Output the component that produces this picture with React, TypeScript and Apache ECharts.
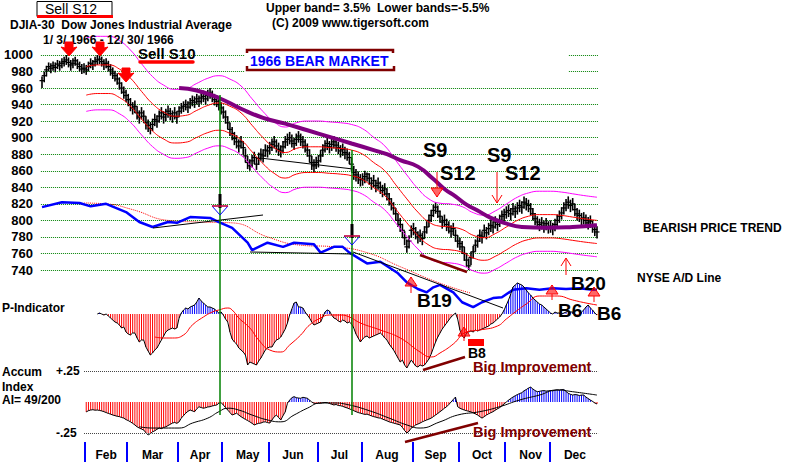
import React, { useEffect, useRef } from "react";
import * as echarts from "echarts";

// ---------------- DATA (DJIA 1966, trading-day index 0..251) ----------------
const closes = [
  969,975,982,986,984,987,985,989,987,990,992,994,991,988,990,993,989,986,983,984,
  982,986,990,988,992,994,995,992,989,990,986,982,978,975,971,966,960,955,951,
  946,940,936,938,930,925,930,926,918,915,911,916,922,920,926,930,925,928,932,929,926,930,925,
  932,936,938,940,937,942,945,943,947,944,948,950,947,951,954,950,946,944,940,936,
  931,925,918,910,905,899,895,890,895,888,878,870,866,872,876,868,875,880,878,885,884,
  888,892,895,890,886,884,889,895,898,900,896,893,898,902,898,895,890,885,878,870,866,870,
  872,878,885,890,893,889,892,895,891,888,884,886,882,880,876,868,858,855,852,849,
  850,853,856,851,845,848,842,845,840,836,838,832,826,820,815,808,800,795,788,779,768,775,788,
  790,785,780,782,778,786,792,800,806,812,816,811,805,798,800,795,792,787,790,782,775,
  772,768,760,752,745,755,762,770,775,782,780,788,785,790,794,792,798,795,800,805,807,
  810,812,808,814,811,815,818,816,822,820,818,814,808,802,798,795,797,793,796,792,
  793,790,795,800,805,809,815,819,822,818,820,813,808,806,802,803,800,797,799,793,789,786,
];
const highs = [
  974,980,987,991,990,992,991,994,993,996,998,1000,997,994,996,998,995,992,989,990,
  988,992,996,994,998,1000,1001,998,995,996,993,989,985,981,978,973,967,962,958,
  953,948,943,945,938,933,937,933,926,922,919,923,929,927,933,937,932,935,939,936,933,937,932,
  938,942,944,946,944,948,951,950,953,951,954,957,954,958,960,957,953,951,947,943,
  938,933,926,918,913,907,903,898,902,896,887,878,874,879,883,876,882,887,886,892,891,
  895,899,902,898,894,891,896,902,905,907,904,900,905,908,905,902,898,893,886,878,874,877,
  879,885,892,897,900,896,899,902,898,895,891,893,889,887,883,876,866,862,859,856,
  857,860,858,857,852,855,849,852,847,843,845,839,833,827,822,815,808,803,796,787,777,782,794,
  797,792,787,789,785,793,799,807,813,819,822,818,812,805,807,802,799,794,797,789,782,
  779,775,768,760,754,762,769,777,782,789,787,795,792,797,801,799,805,802,807,812,814,
  817,819,815,821,818,822,825,823,829,827,825,821,815,809,805,802,804,800,803,799,
  800,797,802,807,812,816,822,826,829,825,827,820,815,813,809,810,807,804,806,800,796,793,
];
const lows = [
  960,967,974,980,978,981,979,983,981,984,986,988,985,981,984,987,983,980,977,978,
  976,980,984,982,986,988,989,986,982,984,980,975,971,968,964,958,953,947,943,
  938,932,928,930,922,917,922,918,910,907,904,908,914,912,918,922,917,920,924,921,918,922,917,
  925,929,931,933,930,935,938,936,940,937,941,943,940,944,947,943,939,937,933,928,
  923,917,910,902,897,891,887,882,887,879,870,862,860,864,868,861,867,872,870,877,876,
  880,884,887,882,878,876,881,887,890,892,888,885,890,894,890,887,882,877,870,861,858,862,
  864,870,877,882,885,881,884,887,883,880,876,878,874,872,868,859,849,847,844,841,
  842,845,847,843,837,840,834,837,832,828,830,824,818,812,807,800,792,786,779,770,761,766,779,
  782,777,772,774,770,778,784,792,798,804,808,803,797,790,792,787,784,779,782,774,767,
  764,760,751,744,740,746,754,762,767,774,772,780,777,782,786,784,790,787,792,797,799,
  802,804,800,806,803,807,810,808,814,812,810,806,800,794,790,787,789,785,788,784,
  785,782,787,792,797,801,807,811,814,810,812,805,800,798,794,795,792,789,791,785,781,778,
];

// 21-day moving average (red) read at sample days; bands are % offsets from it
const maIdx = [20,25,30,35,40,45,50,55,60,65,70,75,80,85,90,95,100,105,110,115,120,125,130,135,140,145,150,155,160,165,170,175,180,185,190,195,200,205,210,215,220,225,230,235,240,245,251];
const maVals = [986,988,988,983,972,956,941,931,926,927,933,939,942,938,930,915,900,888,882,887,889,889,888,887,885,880,870,860,843,826,810,798,793,792,789,782,779,784,792,800,805,807,807,806,804,802,800];
const UPPER_BAND = 0.035;
const LOWER_BAND_1 = 0.035;
const LOWER_BAND_2 = 0.055;

// long moving average (purple)
const purpleIdx = [62,70,80,90,100,110,120,130,140,150,156,162,170,177,182,187,192,197,203,209,217,228,240,251];
const purpleVals = [960,957,948,935,924,917,909,901,893,885,880,873,865,850,838,829,819,812,803,797,792,791,792,794];

// NYSE A/D line, plotted on the price scale
const adIdx = [0,9,17,22,29,38,44,50,57,61,67,76,80,86,93,95,102,109,114,123,126,132,136,139,147,153,157,161,165,170,174,177,180,186,190,195,199,204,208,213,219,225,231,237,243,249,251];
const adVals = [816,822,821,817,820,810,798,792,798,797,804,803,798,791,773,764,773,768,773,771,761,768,768,761,748,750,743,736,725,717,713,719,722,713,701,695,701,706,707,716,718,716,718,717,718,716,716];
const adMaIdx = [19,29,41,57,71,86,102,117,132,147,162,180,194];
const adMaVals = [821,820,813,800,798,797,780,770,768,761,744,724,712];

// P-Indicator (daily from day 25)
const pStart = 25;
const pVals = [
  0,1,0,-1,0,-2,-4,-6,-8,-9,
  -11,-14,-13,-18,-20,-21,-19,-19,-24,-28,
  -26,-26,-33,-37,-41,-39,-36,-34,-30,-26,
  -22,-18,-16,-15,-14,-15,-14,-4,1,4,
  6,5,7,8,9,12,16,13,11,9,
  7,7,6,5,3,1,2,-1,-5,-8,
  -18,-25,-28,-30,-34,-36,-38,-41,-51,-48,
  -49,-50,-51,-47,-44,-40,-36,-34,-33,-33,
  -29,-26,-25,-23,-19,-15,-9,-1,5,11,
  12,7,7,6,2,-1,-4,-8,-11,-10,
  -9,-8,-3,2,4,3,-1,-4,-5,-7,
  -8,-6,-7,-9,-8,-10,-14,-20,-24,-28,
  -25,-23,-22,-24,-23,-22,-21,-20,-19,-21,
  -24,-26,-30,-33,-36,-40,-44,-48,-46,-51,
  -54,-50,-46,-49,-52,-53,-51,-52,-51,-48,
  -45,-40,-34,-28,-23,-19,-15,-12,-9,-6,
  -3,-1,1,-5,-16,-22,-24,-19,-18,-17,
  -18,-16,-17,-16,-15,-14,-13,-12,-10,-9,
  -7,-5,-3,0,4,9,14,20,27,29,
  31,30,29,27,24,21,19,16,14,12,
  10,9,7,5,3,1,0,2,1,1,
  0,1,2,3,2,2,0,-3,-1,2,
  4,7,9,6,4,1,-1,
];
const pMaIdx = [51,55,59,64,68,73,77,80,84,86,89,94,98,103,108,112,117,121,126,130,135,139,144,153,162,171,176,180,186,192,198,206,210,214,219,225,233,240,246,251];
const pMaVals = [-23,-24,-24,-21,-11,-3,2,4,6,4,-4,-14,-26,-36,-38,-31,-21,-11,-4,-1,-1,-3,-9,-16,-24,-38,-43,-39,-30,-18,-16,-12,-5,2,10,18,18,14,11,9];

// Accumulation Index (daily from day 20)
const aiStart = 20;
const aiVals = [
  -0.080,-0.070,-0.065,-0.062,-0.066,-0.065,-0.068,-0.072,-0.078,-0.085,
  -0.092,-0.098,-0.105,-0.110,-0.115,-0.118,-0.125,-0.130,-0.142,-0.150,
  -0.160,-0.172,-0.185,-0.200,-0.210,-0.218,-0.226,-0.248,-0.266,-0.255,
  -0.240,-0.232,-0.220,-0.210,-0.215,-0.205,-0.200,-0.190,-0.180,-0.170,
  -0.165,-0.172,-0.160,-0.130,-0.110,-0.090,-0.075,-0.065,-0.072,-0.078,
  -0.055,-0.038,-0.045,-0.050,-0.046,-0.040,-0.038,-0.032,-0.028,-0.024,
  -0.010,-0.005,-0.024,-0.045,-0.065,-0.085,-0.105,-0.098,-0.090,-0.105,
  -0.118,-0.130,-0.140,-0.150,-0.160,-0.172,-0.185,-0.178,-0.172,-0.170,
  -0.162,-0.160,-0.166,-0.170,-0.145,-0.120,-0.105,-0.125,-0.145,-0.110,
  -0.080,-0.010,0.015,0.035,0.043,0.035,0.032,0.030,0.038,0.034,
  0.030,0.015,0.000,-0.010,-0.012,-0.010,-0.010,-0.006,-0.004,-0.005,
  -0.012,-0.018,-0.024,-0.020,-0.028,-0.030,-0.035,-0.042,-0.048,-0.055,
  -0.062,-0.070,-0.078,-0.085,-0.090,-0.095,-0.100,-0.098,-0.105,-0.112,
  -0.118,-0.122,-0.128,-0.130,-0.138,-0.145,-0.152,-0.160,-0.165,-0.170,
  -0.175,-0.180,-0.185,-0.205,-0.230,-0.250,-0.235,-0.210,-0.200,-0.185,
  -0.178,-0.170,-0.160,-0.152,-0.145,-0.138,-0.130,-0.118,-0.105,-0.092,
  -0.078,-0.065,-0.050,-0.038,-0.020,0.000,0.020,0.040,-0.038,-0.050,
  -0.058,-0.065,-0.070,-0.075,-0.080,-0.088,-0.096,-0.105,-0.118,-0.130,
  -0.118,-0.105,-0.095,-0.086,-0.078,-0.066,-0.055,-0.045,-0.030,-0.015,
  0.000,0.015,0.028,0.040,0.050,0.060,0.068,0.075,0.090,0.100,
  0.112,0.120,0.105,0.092,0.083,0.086,0.090,0.092,0.088,0.090,
  0.092,0.090,0.095,0.098,0.096,0.100,0.100,0.085,0.070,0.062,
  0.056,0.060,0.058,0.052,0.056,0.056,0.040,0.028,0.016,0.005,
  -0.008,-0.016,
];
const aiMaIdx = [44,50,62,68,75,80,84,89,95,102,108,114,120,126,132,138,148,157,165,171,180,188,198,207,216,225,233,240,251];
const aiMaVals = [-0.20,-0.21,-0.21,-0.17,-0.13,-0.078,-0.05,-0.065,-0.105,-0.145,-0.16,-0.105,-0.05,-0.008,-0.008,-0.02,-0.07,-0.13,-0.185,-0.21,-0.16,-0.105,-0.078,-0.038,0.016,0.056,0.097,0.083,0.056];

// month axis
const monthNames = ["Feb","Mar","Apr","May","Jun","Jul","Aug","Sep","Oct","Nov","Dec"];
const monthStarts = [20,39,62,82,103,125,145,168,189,210,230];
const monthLabelAt = [29,50,71.5,93,113.5,134.5,156,178,199,221,241];
const priceTicks = { min: 740, max: 1020, step: 20 };

// ---------------- CHART ----------------
const FONT = "'Liberation Sans', Arial, Helvetica, sans-serif";
const RED = "#ff0000";
const MAG = "#ff00ff";
const BLUE = "#0000ff";
const MAROON = "#800000";

const pair = (idx: number[], vals: number[], f = (v: number) => v) => idx.map((x, k) => [x, f(vals[k])]);

function txt(text: string, x: number, y: number, size: number, extra: any = {}) {
  return {
    type: "text", x, y, z: 10,
    style: { text, fontSize: size, fontWeight: "bold", fontFamily: FONT, fill: "#000", align: "left", verticalAlign: "middle", ...extra },
  };
}
function seg(x1: number, y1: number, x2: number, y2: number, stroke: string, lineWidth: number, extra: any = {}) {
  return { type: "line", z: 10, shape: { x1, y1, x2, y2 }, style: { stroke, lineWidth, ...extra } };
}
function fatDown(cx: number, y0: number) {
  return {
    type: "polygon", z: 10,
    shape: { points: [[cx - 4, y0], [cx + 4, y0], [cx + 4, y0 + 6], [cx + 8, y0 + 5], [cx, y0 + 14], [cx - 8, y0 + 5], [cx - 4, y0 + 6]] },
    style: { fill: RED, stroke: RED, lineWidth: 1, lineJoin: "round" },
  };
}
function hatchArrow(x: number, yTail: number, yHead: number) {
  const dir = yHead > yTail ? 1 : -1;
  const hb = yHead - dir * 9;
  const out: any[] = [
    seg(x, yTail, x, yHead, RED, 1),
    { type: "polygon", z: 10, shape: { points: [[x - 6, hb], [x + 6, hb], [x, yHead]] }, style: { fill: "rgba(255,0,0,0.2)", stroke: RED, lineWidth: 1 } },
  ];
  for (const dx of [-4, -2, 2, 4]) {
    const len = 9 * (1 - Math.abs(dx) / 6);
    out.push(seg(x + dx, hb, x + dx, hb + dir * len, RED, 1));
  }
  return out;
}
function thinArrow(x: number, yTail: number, yHead: number) {
  const dir = yHead > yTail ? 1 : -1;
  return [
    seg(x, yTail, x, yHead, RED, 1),
    { type: "polyline", z: 10, shape: { points: [[x - 5, yHead - dir * 8], [x, yHead], [x + 5, yHead - dir * 8]] }, style: { stroke: RED, lineWidth: 1, fill: null } },
  ];
}
function signalMarker(x: number, yTop: number) {
  return [
    { type: "rect", z: 10, shape: { x: x - 1.5, y: yTop, width: 3, height: 14 }, style: { fill: "#000" } },
    { type: "polygon", z: 10, shape: { points: [[x - 8, yTop + 12], [x + 8, yTop + 12], [x, yTop + 21]] }, style: { fill: "none", stroke: BLUE, lineWidth: 1 } },
    seg(x - 8, yTop + 12, x + 8, yTop + 12, RED, 1.2),
  ];
}

function buildOption(): any {
  const gridBox = { left: 40.9, width: 557.2 };
  const xBase = { type: "value", min: -0.5, max: 251.5, show: false };
  const ohlc = closes.map((c, i) => [i, highs[i], lows[i], c]);
  const pData = pVals.map((v, k) => [pStart + k, v]);
  const aiData = aiVals.map((v, k) => [aiStart + k, v]);
  const signColor = (p: any) => (p.value[1] >= 0 ? BLUE : RED);

  const graphic: any[] = [
    { type: "rect", z: 1, shape: { x: 245, y: 44, width: 323, height: 33 }, style: { fill: "#fff" } },
    { type: "rect", z: 10, shape: { x: 37, y: 1.5, width: 75, height: 15 }, style: { fill: "#fff", stroke: "#000", lineWidth: 1 } },
    txt("Sell S12", 45, 9, 14, { fontWeight: "normal" }),
    seg(37, 16.5, 113, 16.5, RED, 3),
    txt("DJIA-30  Dow Jones Industrial Average", 10, 24.5, 12),
    txt("1/ 3/ 1966 - 12/ 30/ 1966", 43, 39.5, 12),
    txt("Upper band= 3.5%  Lower bands=-5.5%", 266, 8, 12),
    txt("(C) 2009 www.tigersoft.com", 272, 23, 12),
    txt("Sell S10", 138, 53, 15),
    seg(140, 62, 193, 62, RED, 3.5, { lineCap: "round" }),
    txt("1966 BEAR MARKET", 250, 61, 14, { fill: BLUE }),
    { type: "polyline", z: 10, shape: { points: [[247, 53], [247, 50], [393, 50], [393, 53]] }, style: { stroke: MAROON, lineWidth: 2.5, fill: null } },
    { type: "polyline", z: 10, shape: { points: [[247, 66], [247, 70], [394, 70], [394, 66]] }, style: { stroke: MAROON, lineWidth: 2.5, fill: null } },
    fatDown(69, 42), fatDown(100, 42), fatDown(126, 68),
    txt("S9", 423, 150, 20), txt("S12", 440, 173, 20),
    txt("S9", 487, 155, 20), txt("S12", 505, 173, 20),
    ...hatchArrow(437, 172, 197),
    ...thinArrow(497, 172, 203),
    ...thinArrow(566, 275, 258),
    txt("BEARISH PRICE TREND", 643, 228, 12),
    txt("NYSE A/D Line", 637, 278, 12),
    txt("B19", 417, 300, 19), txt("B20", 571, 283, 19),
    txt("B6", 558, 310, 19), txt("B6", 597, 313, 19),
    ...hatchArrow(411, 293, 277),
    ...hatchArrow(552, 300, 285),
    ...hatchArrow(594, 302, 287),
    ...hatchArrow(464, 341, 327),
    { type: "rect", z: 10, shape: { x: 468, y: 339, width: 16, height: 7 }, style: { fill: RED } },
    txt("B8", 468, 353, 14),
    txt("P-Indicator", 2, 308, 12),
    txt("Accum", 2, 372, 12), txt("Index", 2, 387, 12), txt("AI= 49/200", 2, 400, 12),
    txt("Big Improvement", 473, 367, 14.5, { fill: MAROON }),
    txt("Big Improvement", 473, 432, 14.5, { fill: MAROON }),
    seg(420, 255, 467, 272, MAROON, 2.5),
    seg(423, 370, 465, 357, MAROON, 2.5),
    seg(405, 442, 478, 423, MAROON, 2.5),
    seg(153, 228, 263, 215, "#000", 1),
    seg(250, 252, 353, 254, "#000", 1),
    seg(260, 158, 353, 169, "#000", 1),
    seg(353, 252, 503, 308, "#000", 1),
    seg(220, 95, 220, 415, "#008000", 1.5),
    seg(352, 150, 352, 415, "#008000", 1.5),
    ...signalMarker(220, 194),
    ...signalMarker(352, 224),
  ];

  return {
    animation: false,
    backgroundColor: "#fff",
    textStyle: { fontFamily: FONT },
    grid: [
      { ...gridBox, top: 38.46, height: 231.54 },
      { ...gridBox, top: 274, height: 100 },
      { ...gridBox, top: 371, height: 62 },
      { ...gridBox, top: 440, height: 2 },
    ],
    xAxis: [
      { ...xBase, gridIndex: 0 },
      { ...xBase, gridIndex: 1 },
      { ...xBase, gridIndex: 2 },
      {
        type: "value", gridIndex: 3, min: -0.5, max: 251.5,
        axisLine: { show: false },
        splitLine: { show: false },
        axisTick: { show: true, customValues: monthStarts.map((s) => s - 0.5), length: 20, lineStyle: { color: BLUE, width: 2 } },
        axisLabel: {
          customValues: monthLabelAt,
          formatter: (v: number) => monthNames[monthLabelAt.indexOf(v)] ?? "",
          fontWeight: "bold", fontSize: 12, color: "#000", margin: 7, fontFamily: FONT,
        },
      },
    ],
    yAxis: [
      {
        type: "value", gridIndex: 0, min: priceTicks.min, max: priceTicks.max, interval: priceTicks.step,
        axisLine: { show: false }, axisTick: { show: false },
        axisLabel: { formatter: (v: number) => (v >= priceTicks.max ? "" : String(v)), fontWeight: "bold", fontSize: 13, color: "#000", margin: 8, fontFamily: FONT },
        splitLine: { show: true, showMaxLine: false, lineStyle: { type: "dotted", color: "#008000", width: 1 } },
      },
      { type: "value", gridIndex: 1, min: -60, max: 40, show: false },
      {
        type: "value", gridIndex: 2, min: -0.25, max: 0.25, interval: 0.25,
        axisLine: { show: false }, axisTick: { show: false }, splitLine: { show: false },
        axisLabel: { inside: true, margin: 15, formatter: (v: number) => (v > 0 ? "+.25" : v < 0 ? "-.25" : ""), fontWeight: "bold", fontSize: 12, color: "#000", fontFamily: FONT },
      },
      { type: "value", gridIndex: 3, min: 0, max: 1, show: false },
    ],
    series: [
      { type: "line", xAxisIndex: 0, yAxisIndex: 0, data: pair(maIdx, maVals, (v) => v * (1 + UPPER_BAND)), smooth: true, symbol: "none", clip: false, lineStyle: { color: MAG, width: 1 } },
      { type: "line", xAxisIndex: 0, yAxisIndex: 0, data: pair(maIdx, maVals, (v) => v * (1 - LOWER_BAND_1)), smooth: true, symbol: "none", clip: false, lineStyle: { color: RED, width: 1 } },
      { type: "line", xAxisIndex: 0, yAxisIndex: 0, data: pair(maIdx, maVals, (v) => v * (1 - LOWER_BAND_2)), smooth: true, symbol: "none", clip: false, lineStyle: { color: MAG, width: 1 } },
      { type: "line", xAxisIndex: 0, yAxisIndex: 0, data: pair(maIdx, maVals), smooth: true, symbol: "none", clip: false, lineStyle: { color: RED, width: 1 } },
      { type: "line", xAxisIndex: 0, yAxisIndex: 0, data: pair(purpleIdx, purpleVals), smooth: true, symbol: "none", clip: false, lineStyle: { color: "#800080", width: 4 } },
      { type: "line", xAxisIndex: 0, yAxisIndex: 0, data: pair(adMaIdx, adMaVals), smooth: true, symbol: "none", clip: false, lineStyle: { color: RED, width: 1, type: "dotted" } },
      { type: "line", xAxisIndex: 0, yAxisIndex: 0, data: pair(adIdx, adVals), symbol: "none", clip: false, lineStyle: { color: BLUE, width: 2.5 } },
      {
        type: "custom", xAxisIndex: 0, yAxisIndex: 0, data: ohlc, encode: { x: 0, y: [1, 2, 3] }, clip: false, z: 3,
        renderItem: (_p: any, api: any) => {
          const i = api.value(0);
          const hi = api.coord([i, api.value(1)]);
          const lo = api.coord([i, api.value(2)]);
          const cl = api.coord([i, api.value(3)]);
          return {
            type: "group",
            children: [
              { type: "line", shape: { x1: hi[0], y1: hi[1], x2: lo[0], y2: lo[1] }, style: { stroke: "#000", lineWidth: 1.6 } },
              { type: "line", shape: { x1: cl[0] - 2.5, y1: cl[1], x2: cl[0] + 2.5, y2: cl[1] }, style: { stroke: "#000", lineWidth: 1.2 } },
            ],
          };
        },
      },
      { type: "bar", xAxisIndex: 1, yAxisIndex: 1, data: pData, barWidth: 1, itemStyle: { color: signColor } },
      { type: "line", xAxisIndex: 1, yAxisIndex: 1, data: pData, symbol: "none", clip: false, lineStyle: { color: "#000", width: 1 } },
      { type: "line", xAxisIndex: 1, yAxisIndex: 1, data: pair(pMaIdx, pMaVals), smooth: true, symbol: "none", clip: false, lineStyle: { color: RED, width: 1 } },
      {
        type: "bar", xAxisIndex: 2, yAxisIndex: 2, data: aiData, barWidth: 1, itemStyle: { color: signColor },
        markLine: {
          silent: true, symbol: "none", label: { show: false },
          lineStyle: { type: "dotted", color: "#444", width: 1 },
          data: [
            [{ coord: [19, 0.25] }, { coord: [251.5, 0.25] }],
            [{ coord: [19, -0.25] }, { coord: [251.5, -0.25] }],
          ],
        },
      },
      { type: "line", xAxisIndex: 2, yAxisIndex: 2, data: aiData, symbol: "none", clip: false, lineStyle: { color: "#000", width: 1 } },
      { type: "line", xAxisIndex: 2, yAxisIndex: 2, data: pair(aiMaIdx, aiMaVals), smooth: true, symbol: "none", clip: false, lineStyle: { color: "#000", width: 1 } },
    ],
    graphic,
  };
}

export default function App() {
  const ref = useRef<HTMLDivElement>(null);
  useEffect(() => {
    document.body.style.margin = "0";
    const chart = echarts.init(ref.current!, null, { renderer: "svg" });
    chart.setOption(buildOption());
    return () => chart.dispose();
  }, []);
  return <div ref={ref} style={{ width: 800, height: 465 }} />;
}
